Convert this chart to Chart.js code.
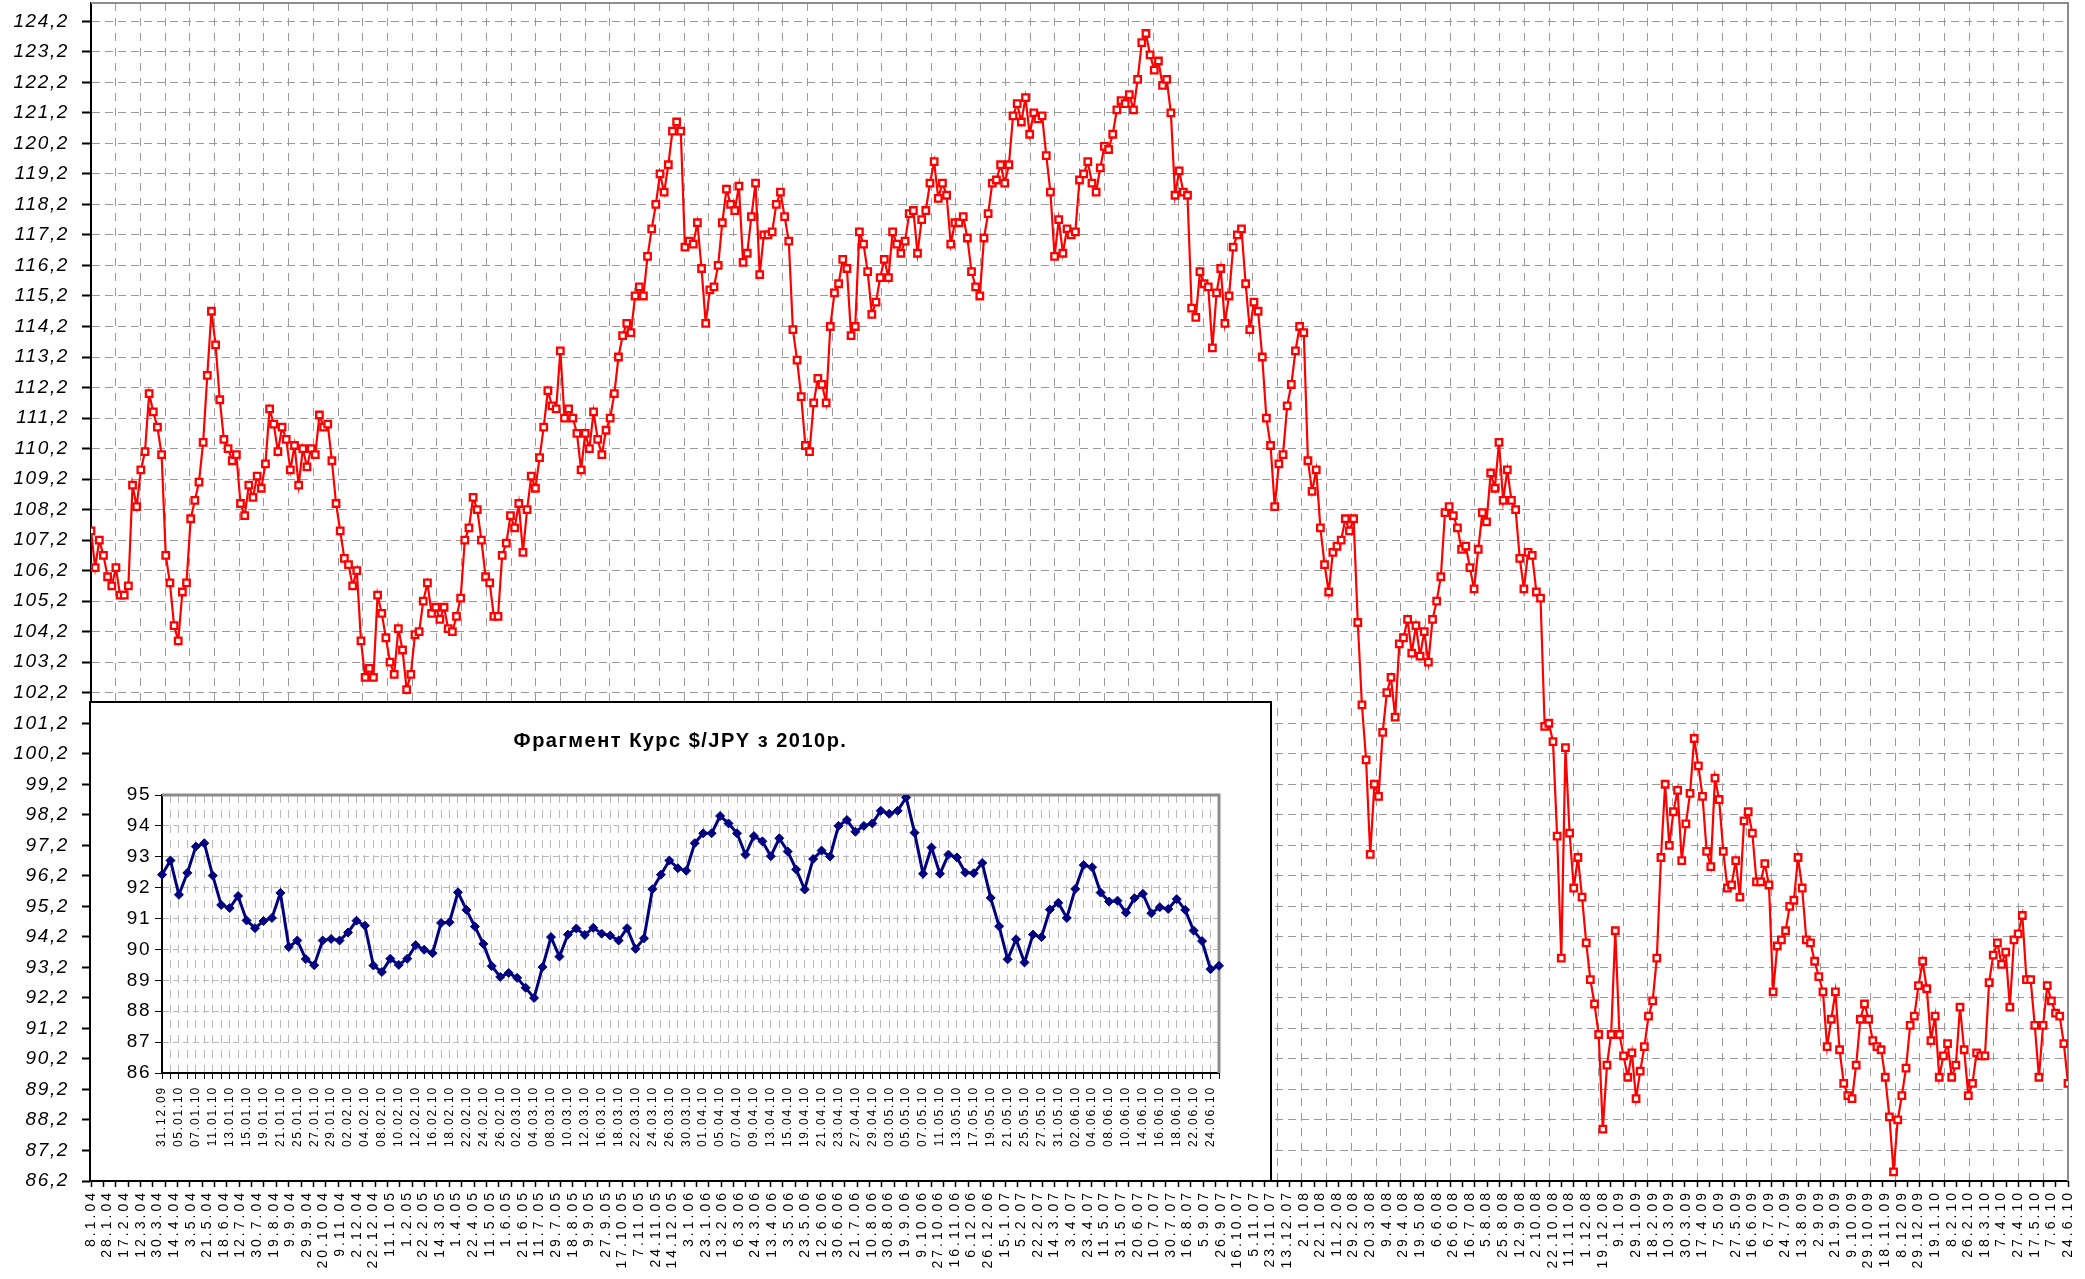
<!DOCTYPE html>
<html>
<head>
<meta charset="utf-8">
<script src="https://cdn.jsdelivr.net/npm/chart.js@4.4.0/dist/chart.umd.min.js"></script>
<style>
    body { margin: 0; background: #fff; }
    #wrap { position: relative; width: 2085px; height: 1279px; }
    #mainChart { position: absolute; left: 0; top: 0; }
    #insetChart { position: absolute; left: 89px; top: 701px; }
</style>
</head>
<body>
<div id="wrap">
    <canvas id="mainChart" width="2085" height="1279"></canvas>
    <canvas id="insetChart" width="1183" height="481"></canvas>
</div>
<script>
// main chart: USD/JPY 2004-2010, 4 readings per label step
const mainDates = [
    '8.1.04','28.1.04','17.2.04','12.3.04','30.3.04','14.4.04','3.5.04','21.5.04','18.6.04','12.7.04','30.7.04','19.8.04','9.9.04','29.9.04','20.10.04','9.11.04','2.12.04','22.12.04',
    '11.1.05','1.2.05','22.2.05','14.3.05','1.4.05','22.4.05','11.5.05','1.6.05','21.6.05','11.7.05','29.7.05','18.8.05','9.9.05','27.9.05','17.10.05','7.11.05','24.11.05','14.12.05',
    '3.1.06','23.1.06','13.2.06','6.3.06','24.3.06','13.4.06','3.5.06','23.5.06','12.6.06','30.6.06','21.7.06','10.8.06','30.8.06','19.9.06','9.10.06','27.10.06','16.11.06','6.12.06','26.12.06',
    '15.1.07','5.2.07','22.2.07','14.3.07','3.4.07','23.4.07','11.5.07','31.5.07','20.6.07','10.7.07','30.7.07','16.8.07','5.9.07','26.9.07','16.10.07','5.11.07','23.11.07','13.12.07',
    '2.1.08','22.1.08','11.2.08','29.2.08','20.3.08','9.4.08','29.4.08','19.5.08','6.6.08','26.6.08','16.7.08','5.8.08','25.8.08','12.9.08','2.10.08','22.10.08','11.11.08','1.12.08','19.12.08',
    '9.1.09','29.1.09','18.2.09','10.3.09','30.3.09','17.4.09','7.5.09','27.5.09','16.6.09','6.7.09','24.7.09','13.8.09','2.9.09','21.9.09','9.10.09','29.10.09','18.11.09','8.12.09','29.12.09',
    '19.1.10','8.2.10','26.2.10','18.3.10','7.4.10','27.4.10','17.5.10','7.6.10','24.6.10'
];

const yTicks = [86.2,87.2,88.2,89.2,90.2,91.2,92.2,93.2,94.2,95.2,96.2,97.2,98.2,99.2,100.2,101.2,102.2,103.2,104.2,105.2,
    106.2,107.2,108.2,109.2,110.2,111.2,112.2,113.2,114.2,115.2,116.2,117.2,118.2,119.2,120.2,121.2,122.2,123.2,124.2];

const ptsPerLabel = 4;
const mainValues = [
    107.5,106.3,107.2,106.7,106.0,105.7,106.3,105.4,105.4,105.7,109.0,108.3,109.5,110.1,112.0,111.4,110.9,110.0,106.7,105.8,
    104.4,103.9,105.5,105.8,107.9,108.5,109.1,110.4,112.6,114.7,113.6,111.8,110.5,110.2,109.8,110.0,108.4,108.0,109.0,108.6,
    109.3,108.9,109.7,111.5,111.0,110.1,110.9,110.5,109.5,110.3,109.0,110.2,109.6,110.2,110.0,111.3,110.9,111.0,109.8,108.4,
    107.5,106.6,106.4,105.7,106.2,103.9,102.7,103.0,102.7,105.4,104.8,104.0,103.2,102.8,104.3,103.6,102.3,102.8,104.1,104.2,
    105.2,105.8,104.8,105.0,104.6,105.0,104.3,104.2,104.7,105.3,107.2,107.6,108.6,108.2,107.2,106.0,105.8,104.7,104.7,106.7,
    107.1,108.0,107.6,108.4,106.8,108.2,109.3,108.9,109.9,110.9,112.1,111.6,111.5,113.4,111.2,111.5,111.2,110.7,109.5,110.7,
    110.2,111.4,110.5,110.0,110.8,111.2,112.0,113.2,113.9,114.3,114.0,115.2,115.5,115.2,116.5,117.4,118.2,119.2,118.6,119.5,
    120.6,120.9,120.6,116.8,117.0,116.9,117.6,116.1,114.3,115.4,115.5,116.2,117.6,118.7,118.2,118.0,118.8,116.3,116.6,117.8,
    118.9,115.9,117.2,117.2,117.3,118.2,118.6,117.8,117.0,114.1,113.1,111.9,110.3,110.1,111.7,112.5,112.3,111.7,114.2,115.3,
    115.6,116.4,116.1,113.9,114.2,117.3,116.9,116.0,114.6,115.0,115.8,116.4,115.8,117.3,116.9,116.6,117.0,117.9,118.0,116.6,
    117.7,118.0,118.9,119.6,118.4,118.9,118.5,116.9,117.6,117.6,117.8,117.1,116.0,115.5,115.2,117.1,117.9,118.9,119.0,119.5,
    118.9,119.5,121.1,121.5,120.9,121.7,120.5,121.2,121.0,121.1,119.8,118.6,116.5,117.7,116.6,117.4,117.2,117.3,119.0,119.2,
    119.6,118.9,118.6,119.4,120.1,120.0,120.5,121.3,121.6,121.5,121.8,121.3,122.3,123.5,123.8,123.1,122.6,122.9,122.1,122.3,
    121.2,118.5,119.3,118.6,118.5,114.8,114.5,116.0,115.6,115.5,113.5,115.3,116.1,114.3,115.2,116.8,117.2,117.4,115.6,114.1,
    115.0,114.7,113.2,111.2,110.3,108.3,109.7,110.0,111.6,112.3,113.4,114.2,114.0,109.8,108.8,109.5,107.6,106.4,105.5,106.8,
    107.0,107.2,107.9,107.5,107.9,104.5,101.8,100.0,96.9,99.2,98.8,100.9,102.2,102.7,101.4,103.8,104.0,104.6,103.5,104.4,
    103.4,104.2,103.2,104.6,105.2,106.0,108.1,108.3,108.0,107.6,106.9,107.0,106.3,105.6,106.9,108.1,107.8,109.4,108.9,110.4,
    108.5,109.5,108.5,108.2,106.6,105.6,106.8,106.7,105.5,105.3,101.1,101.2,100.6,97.5,93.5,100.4,97.6,95.8,96.8,95.5,
    94.0,92.8,92.0,91.0,87.9,90.0,91.0,94.4,91.0,90.3,89.6,90.4,88.9,89.8,90.6,91.6,92.1,93.5,96.8,99.2,
    97.2,98.3,99.0,96.7,97.9,98.9,100.7,99.8,98.8,97.0,96.5,99.4,98.7,97.0,95.8,95.9,96.7,95.5,98.0,98.3,
    97.6,96.0,96.0,96.6,95.9,92.4,93.9,94.1,94.4,95.2,95.4,96.8,95.8,94.1,94.0,93.4,92.9,92.4,90.6,91.5,
    92.4,90.5,89.4,89.0,88.9,90.0,91.5,92.0,91.5,90.8,90.6,90.5,89.6,88.3,86.5,88.2,89.0,89.9,91.3,91.6,
    92.6,93.4,92.5,90.8,91.6,89.6,90.3,90.7,89.6,90.0,91.9,90.5,89.0,89.4,90.4,90.3,90.3,92.7,93.6,94.0,
    93.3,93.7,91.9,94.1,94.3,94.9,92.8,92.8,91.3,89.6,91.3,92.6,92.1,91.7,91.6,90.7,89.4
];

// inset: 2010 fragment, every other day labelled
const insetDates = [
    '31.12.09','05.01.10','07.01.10','11.01.10','13.01.10','15.01.10','19.01.10','21.01.10','25.01.10','27.01.10','29.01.10',
    '02.02.10','04.02.10','08.02.10','10.02.10','12.02.10','16.02.10','18.02.10','22.02.10','24.02.10','26.02.10',
    '02.03.10','04.03.10','08.03.10','10.03.10','12.03.10','16.03.10','18.03.10','22.03.10','24.03.10','26.03.10','30.03.10',
    '01.04.10','05.04.10','07.04.10','09.04.10','13.04.10','15.04.10','19.04.10','21.04.10','23.04.10','27.04.10','29.04.10',
    '03.05.10','05.05.10','07.05.10','11.05.10','13.05.10','17.05.10','19.05.10','21.05.10','25.05.10','27.05.10','31.05.10',
    '02.06.10','04.06.10','08.06.10','10.06.10','14.06.10','16.06.10','18.06.10','22.06.10','24.06.10'
];
const insetValues = [
    92.42,92.88,91.77,92.48,93.33,93.44,92.39,91.44,91.34,91.73,90.94,90.69,90.92,91.02,91.83,90.08,90.29,89.69,89.49,90.29,
    90.34,90.29,90.55,90.93,90.77,89.48,89.27,89.70,89.50,89.70,90.14,89.99,89.88,90.86,90.88,91.85,91.28,90.74,90.18,89.46,
    89.11,89.24,89.08,88.76,88.43,89.43,90.40,89.77,90.48,90.68,90.47,90.70,90.51,90.45,90.29,90.69,90.02,90.36,91.95,92.42,
    92.88,92.63,92.55,93.44,93.76,93.76,94.32,94.08,93.76,93.07,93.67,93.50,93.02,93.60,93.17,92.59,91.94,92.93,93.20,93.01,
    94.00,94.19,93.81,94.00,94.08,94.49,94.39,94.49,94.92,93.78,92.45,93.30,92.45,93.07,92.98,92.49,92.47,92.80,91.67,90.75,
    89.68,90.33,89.58,90.48,90.40,91.29,91.51,91.02,91.96,92.73,92.66,91.84,91.55,91.58,91.19,91.66,91.80,91.17,91.37,91.31,
    91.63,91.28,90.61,90.27,89.36,89.47
];
const insetTitle = 'Фрагмент Курс $/JPY з 2010р.';

// top and right edge of the plot area, drawn in grey like the original
const framePlugin = {
    id: 'frame',
    beforeDatasetsDraw(chart, args, opts) {
        const {ctx, chartArea: a} = chart;
        ctx.save();
        ctx.strokeStyle = opts.color || '#8c8c8c';
        ctx.lineWidth = opts.width || 2;
        ctx.beginPath();
        ctx.moveTo(a.left, a.top);
        ctx.lineTo(a.right, a.top);
        ctx.lineTo(a.right, a.bottom);
        ctx.stroke();
        ctx.restore();
    }
};

// white box with black outline behind the inset chart
const boxPlugin = {
    id: 'box',
    beforeDraw(chart) {
        const {ctx, width, height} = chart;
        ctx.save();
        ctx.fillStyle = '#ffffff';
        ctx.fillRect(0, 0, width, height);
        ctx.strokeStyle = '#000000';
        ctx.lineWidth = 2;
        ctx.strokeRect(1, 1, width - 2, height - 2);
        ctx.restore();
    }
};

// the original texts are stretched along the baseline; letter spacing gets close.
// x tick labels sit on z:1 so they are drawn after the datasets with the wider spacing
const spacingPlugin = {
    id: 'spacing',
    beforeDraw(chart, args, opts) { chart.ctx.letterSpacing = opts.inner + 'px'; },
    afterDatasetsDraw(chart, args, opts) { chart.ctx.letterSpacing = opts.outer + 'px'; },
    afterDraw(chart) { chart.ctx.letterSpacing = '0px'; }
};

const mainPoints = mainValues.map((v, i) => ({x: i / ptsPerLabel, y: v}));
const gridSteps = 160;

const mainChart = new Chart(document.getElementById('mainChart'), {
    type: 'line',
    data: {
        datasets: [{
            data: mainPoints,
            borderColor: '#ff0000',
            borderWidth: 2.2,
            pointStyle: 'rect',
            pointRadius: 4.6,
            pointBorderWidth: 2.3,
            pointBackgroundColor: '#ffffff',
            pointBorderColor: '#ff0000',
            tension: 0
        }]
    },
    options: {
        responsive: false,
        animation: false,
        devicePixelRatio: 1,
        layout: {padding: {top: 3, right: 17, left: 0, bottom: 0}, autoPadding: false},
        plugins: {
            legend: {display: false},
            tooltip: {enabled: false},
            frame: {color: '#8c8c8c', width: 2},
            spacing: {inner: 1.6, outer: 3}
        },
        scales: {
            x: {
                type: 'linear',
                position: 'bottom',
                weight: 1,
                min: 0,
                max: mainDates.length - 1,
                afterBuildTicks: s => { s.ticks = mainDates.map((d, i) => ({value: i})); },
                afterFit: s => { s.height = 98; s.paddingLeft = 0; s.paddingRight = 0; },
                grid: {display: false, drawTicks: false},
                border: {display: true, color: '#000000', width: 2},
                ticks: {
                    z: 1,
                    autoSkip: false,
                    maxRotation: 90,
                    minRotation: 90,
                    padding: 9,
                    color: '#000000',
                    font: {family: 'Liberation Sans', size: 14},
                    callback: (v, i) => mainDates[i]
                }
            },
            xg: {
                axis: 'x',
                type: 'linear',
                position: 'bottom',
                weight: 0,
                min: 0,
                max: gridSteps,
                afterBuildTicks: s => {
                    const t = [];
                    for (let i = 0; i <= gridSteps; i++) t.push({value: i});
                    s.ticks = t;
                },
                afterFit: s => { s.height = 0; s.paddingLeft = 0; s.paddingRight = 0; },
                grid: {
                    color: c => (c.index % 2 === 0 && c.index > 0 && c.index < gridSteps) ? '#9a9a9a' : 'rgba(0,0,0,0)',
                    lineWidth: 1,
                    tickColor: '#000000',
                    tickLength: 6,
                    tickWidth: 1.5
                },
                border: {display: false, dash: [8, 7]},
                ticks: {display: false}
            },
            y: {
                type: 'linear',
                position: 'left',
                min: 86.2,
                max: 124.8,
                afterBuildTicks: s => { s.ticks = yTicks.map(v => ({value: v})); },
                afterFit: s => { s.width = 91; s.paddingTop = 0; s.paddingBottom = 0; },
                grid: {color: '#9a9a9a', lineWidth: 1, tickColor: '#000000', tickLength: 9, tickWidth: 2},
                border: {display: true, color: '#000000', width: 2, dash: [8, 5]},
                ticks: {
                    padding: 13,
                    color: '#000000',
                    font: {family: 'Liberation Sans', size: 19, style: 'italic'},
                    callback: v => v.toFixed(1).replace('.', ',')
                }
            }
        }
    },
    plugins: [framePlugin, spacingPlugin]
});

const insetCats = insetValues.map((v, i) => (i % 2 === 0 ? insetDates[i / 2] : ''));

const insetChart = new Chart(document.getElementById('insetChart'), {
    type: 'line',
    data: {
        labels: insetCats,
        datasets: [{
            data: insetValues,
            borderColor: '#000080',
            borderWidth: 3,
            pointStyle: 'rectRot',
            pointRadius: 4.5,
            pointBorderWidth: 1,
            pointBackgroundColor: '#000080',
            pointBorderColor: '#000080',
            tension: 0
        }]
    },
    options: {
        responsive: false,
        animation: false,
        devicePixelRatio: 1,
        layout: {padding: 0, autoPadding: false},
        plugins: {
            legend: {display: false},
            tooltip: {enabled: false},
            frame: {color: '#8c8c8c', width: 3},
            spacing: {inner: 1.5, outer: 1.8},
            title: {
                display: true,
                text: insetTitle,
                color: '#000000',
                font: {family: 'Liberation Sans', size: 20, weight: 'bold'},
                padding: {top: 28, bottom: 42}
            }
        },
        scales: {
            x: {
                type: 'category',
                offset: false,
                afterFit: s => { s.height = 109; s.paddingLeft = 0; s.paddingRight = 0; },
                grid: {color: '#b8b8b8', lineWidth: 1, tickColor: '#000000', tickLength: 6, tickWidth: 1},
                border: {display: true, color: '#000000', width: 2, dash: [8, 7]},
                ticks: {
                    z: 1,
                    autoSkip: false,
                    maxRotation: 90,
                    minRotation: 90,
                    padding: 7,
                    color: '#000000',
                    font: {family: 'Liberation Sans', size: 12}
                }
            },
            y: {
                type: 'linear',
                min: 86,
                max: 95,
                ticks: {stepSize: 1, padding: 4, color: '#000000', font: {family: 'Liberation Sans', size: 19}},
                afterFit: s => { s.width = 73; s.paddingTop = 0; s.paddingBottom = 0; },
                grid: {color: '#b8b8b8', lineWidth: 1, tickColor: '#000000', tickLength: 7, tickWidth: 1},
                border: {display: true, color: '#000000', width: 2, dash: [6, 4]}
            },
            // empty right-hand margin of the inset, kept as a blank axis so the title stays centred on the box
            yRight: {
                type: 'linear',
                position: 'right',
                min: 86,
                max: 95,
                afterFit: s => { s.width = 53; s.paddingTop = 0; s.paddingBottom = 0; },
                grid: {display: false, drawTicks: false},
                border: {display: false},
                ticks: {display: false}
            }
        }
    },
    plugins: [boxPlugin, framePlugin, spacingPlugin]
});
</script>
</body>
</html>
